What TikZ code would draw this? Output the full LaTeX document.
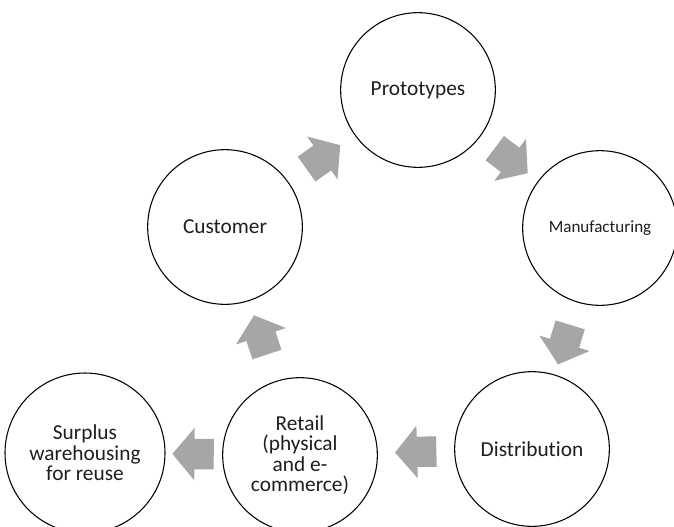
\documentclass[tikz,border=0pt]{standalone}
\usepackage{fontspec}
\setmainfont{Carlito}[Ligatures=NoCommon]
\usetikzlibrary{shapes.arrows}
\definecolor{flowgray}{HTML}{A6A6A6}
\definecolor{labeltext}{HTML}{1E1E1E}
\tikzset{
	stage/.style={circle,draw=black,line width=0.8pt,minimum size=116pt,inner sep=0pt,align=center,text=labeltext,font=\fontsize{16}{18}\selectfont},
	smalltext/.style={font=\fontsize{16}{15.4}\selectfont},
	flow/.style={single arrow,fill=flowgray,draw=none,inner xsep=0pt,inner ysep=11.25pt,minimum height=31pt,single arrow head extend=8.25pt,single arrow tip angle=100,sloped,allow upside down},
}
\begin{document}
\begin{tikzpicture}[x=0.75pt,y=-0.75pt]
			\useasboundingbox (0,0) rectangle (674,526);
			%\draw [red] (0,0) rectangle (674,526);
			\node [stage] (proto) at (418,90) {Prototypes};
			\node [stage,font=\fontsize{12.8}{14}\selectfont] (manu) at (600,228) {Manufacturing};
			\node [stage] (distr) at (532,449) {Distribution};
			\node [stage,smalltext] (retail) at (300,455) {Retail\\(physical\\and e-\\commerce)};
			\node [stage,smalltext,minimum size=120pt] (surplus) at (85,453) {Surplus\\warehousing\\for reuse};
			\node [stage] (cust) at (225,227) {Customer};
			\path (proto) -- node [flow,pos=0.45] (a1) {} (manu);
			\path (manu) -- node [flow] (a2) {} (distr);
			\path (distr) -- node [flow,pos=0.42] (a3) {} (retail);
			\path (retail) -- node [flow,pos=0.4] (a4) {} (surplus);
			\path (retail) -- node [flow] (a5) {} (cust);
			\path (cust) -- node [flow,pos=0.45] (a6) {} (proto);
		\end{tikzpicture}
\end{document}
